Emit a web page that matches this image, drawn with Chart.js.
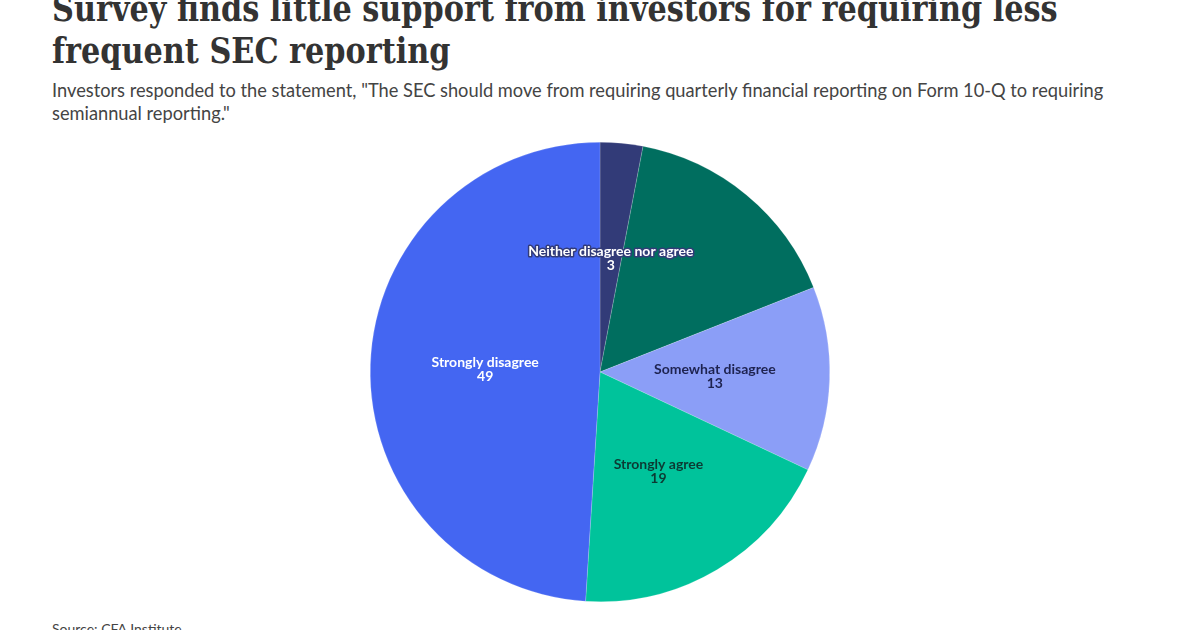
<!DOCTYPE html>
<html>
<head>
<meta charset="utf-8">
<script src="https://cdn.jsdelivr.net/npm/chart.js@4"></script>
<style>
  html, body { margin: 0; padding: 0; background: #fff; }
  body { width: 1200px; height: 630px; position: relative; overflow: hidden; }
  .title { position: absolute; left: 52px; font-family: "DejaVu Serif", serif; font-weight: bold; color: #333; white-space: nowrap; font-size: 34px; transform: scaleY(1.15); transform-origin: left top; }
  .sub { position: absolute; left: 52px; font-family: Lato, sans-serif; color: #444; white-space: nowrap; font-size: 18px; }
  #source { position: absolute; left: 52px; top: 620px; font-family: Lato, sans-serif; color: #444; font-size: 14px; }
  #wrap { position: absolute; left: 0; top: 142px; width: 1200px; height: 460px; }
</style>
</head>
<body>
<div class="title" id="t1" style="top:-11px">Survey finds little support from investors for requiring less</div>
<div class="title" id="t2" style="top:31px">frequent SEC reporting</div>
<div class="sub" id="s1" style="top:79px">Investors responded to the statement, "The SEC should move from requiring quarterly financial reporting on Form 10-Q to requiring</div>
<div class="sub" id="s2" style="top:102px">semiannual reporting."</div>
<div id="source">Source: CFA Institute</div>
<div id="wrap"><canvas id="pieChart"></canvas></div>
<script>
// survey answers, share of investors (%)
var answers = ['Neither disagree nor agree', 'Somewhat agree', 'Somewhat disagree', 'Strongly agree', 'Strongly disagree'];
var shares = [3, 16, 13, 19, 49];
var sliceColors = ['#323b78', '#006e5f', '#8b9ef7', '#00c39b', '#4466f2'];
var labelColors = ['#ffffff', null, '#1e2350', '#0c3a33', '#ffffff'];

// stretch the heading lines to the widths seen in the picture
function fit(id, target) {
    var el = document.getElementById(id);
    var size = parseFloat(getComputedStyle(el).fontSize);
    el.style.fontSize = (size * target / el.offsetWidth) + 'px';
}
fit('t1', 1006);
document.getElementById('t2').style.fontSize = document.getElementById('t1').style.fontSize;
fit('s1', 1052);
document.getElementById('s2').style.fontSize = document.getElementById('s1').style.fontSize;

// labels in the middle of each slice, halo in the slice colour
var sliceLabels = {
    id: 'sliceLabels',
    afterDatasetsDraw: function(chart) {
        var ctx = chart.ctx;
        var meta = chart.getDatasetMeta(0);
        ctx.save();
        ctx.font = 'bold 14px Lato, sans-serif';
        ctx.textAlign = 'center';
        ctx.textBaseline = 'middle';
        ctx.lineJoin = 'round';
        meta.data.forEach(function(arc, i) {
            if (!labelColors[i]) return;
            var p = arc.getCenterPoint();
            var lines = [answers[i], String(shares[i])];
            lines.forEach(function(txt, k) {
                var y = p.y - 6 + k * 14;
                ctx.lineWidth = 3;
                ctx.strokeStyle = sliceColors[i];
                ctx.strokeText(txt, p.x, y);
                ctx.fillStyle = labelColors[i];
                ctx.fillText(txt, p.x, y);
            });
        });
        ctx.restore();
    }
};

var ctxPie = document.getElementById('pieChart').getContext('2d');
var pieChart = new Chart(ctxPie, {
    type: 'pie',
    data: {
        labels: answers,
        datasets: [{
            data: shares,
            backgroundColor: sliceColors,
            borderColor: 'rgba(255,255,255,0.35)',
            borderWidth: 0.5
        }]
    },
    options: {
        responsive: true,
        maintainAspectRatio: false,
        animation: false,
        layout: { padding: 0 },
        plugins: {
            legend: { display: false },
            tooltip: { enabled: false }
        }
    },
    plugins: [sliceLabels]
});
</script>
</body>
</html>
